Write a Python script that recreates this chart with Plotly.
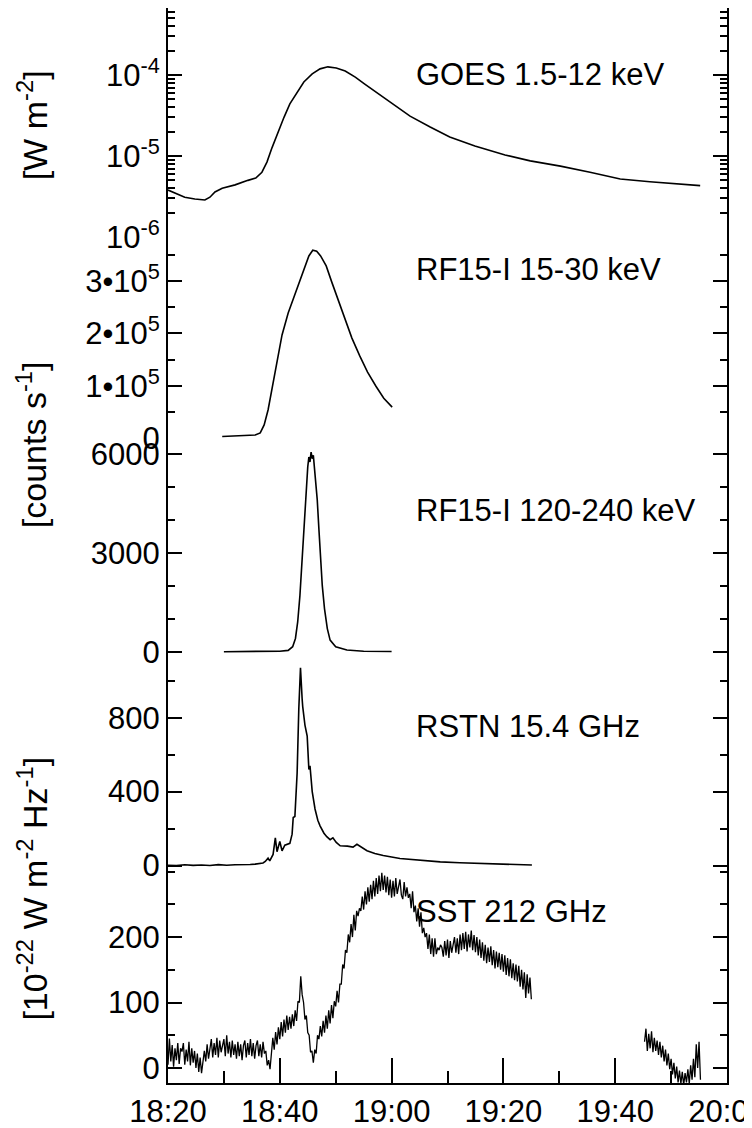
import numpy as np
import plotly.graph_objects as go

# ---------------- data (time in minutes after 18:00 UT) ----------------
goes_t = [20.0, 21.25, 23.0, 24.8, 26.6, 27.5, 28.4, 29.7, 32.0, 34.3, 35.7, 36.8, 37.7,
          38.6, 39.7, 40.75, 41.8, 43.1, 44.3, 45.8, 47.2, 48.6, 50.1, 51.7, 53.5, 55.2,
          57.9, 60.2, 63.3, 66.9, 70.4, 74.9, 80.3, 84.8, 90.2, 95.5, 100.9, 106.2, 111.6, 115.2]
goes_flux = [3.8e-6, 3.5e-6, 3.1e-6, 2.94e-6, 2.86e-6, 3.1e-6, 3.6e-6, 4.0e-6, 4.4e-6, 5.0e-6,
             5.35e-6, 6.3e-6, 8.4e-6, 1.26e-5, 1.98e-5, 3.0e-5, 4.4e-5, 6.2e-5, 8.2e-5, 1.03e-4,
             1.19e-4, 1.26e-4, 1.22e-4, 1.12e-4, 9.4e-5, 7.7e-5, 5.7e-5, 4.4e-5, 3.1e-5, 2.28e-5,
             1.72e-5, 1.33e-5, 1.03e-5, 8.7e-6, 7.5e-6, 6.3e-6, 5.2e-6, 4.8e-6, 4.5e-6, 4.3e-6]

rf_lo_t = [29.7, 32.9, 35.6, 36.5, 37.2, 37.9, 38.6, 39.5, 40.4, 41.5, 42.5, 43.6, 44.5, 45.2,
           45.9, 46.6, 47.3, 48.3, 49.3, 50.4, 51.7, 52.9, 54.3, 55.7, 57.2, 58.6, 60.1]
rf_lo_counts = [2900, 3800, 5700, 9600, 24900, 53500, 95600, 149000, 197000, 239000, 268000,
                298000, 327000, 348000, 359000, 357000, 348000, 329000, 298000, 264000, 226000,
                191000, 157000, 126000, 99000, 76000, 59000]

rf_hi_t = [30.0, 35.0, 40.0, 41.5, 42.3, 42.8, 43.2, 43.6, 43.9, 44.2, 44.5, 44.8, 45.0, 45.2,
           45.4, 45.6, 45.8, 46.0, 46.2, 46.4, 46.7, 47.0, 47.3, 47.6, 48.0, 48.5, 49.0, 50.0,
           52.0, 55.0, 60.0]
rf_hi_counts = [0, 5, 15, 40, 150, 400, 900, 1700, 2600, 3600, 4500, 5200, 5600, 5900, 5750,
                6050, 5850, 5950, 5600, 5300, 4600, 3700, 2800, 2000, 1300, 700, 350, 150,
                50, 15, 5]

rstn_t = [20.0, 21.5, 23.0, 24.5, 26.0, 27.5, 29.0, 30.5, 32.0, 33.5, 34.7, 35.6, 36.5, 37.0,
          37.4, 37.9, 38.2, 38.8, 39.2, 39.5, 40.0, 40.4, 40.9, 41.8, 42.2, 42.4, 42.7, 43.1,
          43.4, 43.7, 44.0, 44.1, 44.5, 44.9, 45.2, 45.4, 45.8, 46.3, 46.8, 47.2, 47.9, 48.4,
          49.0, 49.5, 50.1, 50.8, 52.1, 53.1, 53.8, 54.7, 55.6, 57.0, 58.5, 61.5, 65.1, 68.7,
          72.2, 76.4, 81.2, 85.1]
rstn_flux = [2, 0, 4, 1, 3, 0, 5, 2, 4, 3, 6, 8, 10, 14, 22, 40, 25, 60, 150, 75, 130, 80,
             110, 120, 170, 260, 265, 500, 850, 1070, 900, 860, 760, 700, 520, 540, 400, 306,
             245, 215, 175, 156, 140, 150, 125, 107, 105, 100, 115, 95, 80, 65, 54, 38, 28, 20,
             15, 11, 6, 3]

# SST 212 GHz, sampled every 0.25 min
sst1_start, sst1_step = 20.0, 0.25
sst1_flux = [
    5, 45, 10, 35, 2, 30, 12, 38, 6, 30,
    25, 38, 5, 28, 10, 40, 4, 30, 8, 26,
    0, 22, -6, 16, -8, 14, 26, 10, 36, 14,
    34, 44, 16, 38, 20, 46, 16, 42, 24, 34,
    44, 18, 50, 22, 40, 16, 42, 20, 36, 14,
    40, 18, 36, 12, 34, 42, 16, 38, 20, 44,
    18, 38, 14, 34, 42, 18, 36, 16, 40, 22,
    26, 4, 12, -2, 30, 46, 28, 55, 36, 62,
    44, 70, 48, 74, 54, 80, 58, 78, 60, 82,
    64, 88, 72, 102, 100, 140, 112, 100, 74, 80,
    54, 50, 24, 26, 8, 28, 22, 50, 44, 64,
    48, 72, 54, 80, 60, 88, 68, 96, 76, 102,
    94, 118, 100, 128, 128, 158, 152, 180, 176, 204,
    192, 220, 200, 234, 210, 240, 232, 244, 240, 262,
    242, 270, 250, 276, 254, 280, 258, 286, 262, 290,
    266, 294, 270, 298, 272, 294, 268, 292, 264, 288,
    260, 286, 262, 290, 266, 276, 288, 264, 258, 284,
    262, 276, 260, 266, 244, 270, 238, 248, 224, 244,
    216, 238, 206, 214, 200, 206, 182, 204, 174, 198,
    170, 198, 174, 184, 180, 188, 184, 170, 194, 172,
    196, 168, 194, 176, 188, 200, 176, 198, 174, 204,
    180, 206, 182, 208, 178, 204, 184, 210, 180, 203,
    177, 200, 172, 196, 168, 192, 164, 188, 160, 184,
    162, 186, 157, 180, 152, 178, 154, 176, 150, 174,
    147, 172, 142, 168, 140, 166, 137, 160, 134, 158,
    132, 156, 124, 150, 120, 146, 107, 143, 114, 138,
    105]
sst2_start, sst2_step = 105.25, 0.25
sst2_flux = [
    40, 60, 26, 52, 30, 56, 24, 46, 26, 42,
    20, 40, 16, 34, 10, 28, 4, 22, -2, 14,
    -10, 8, -16, 2, -22, -4, -24, -6, -26, -8,
    -22, -2, -24, 4, -18, 14, -14, 36, 0, 40,
    -18]

labels = ["GOES 1.5-12 keV", "RF15-I 15-30 keV", "RF15-I 120-240 keV",
          "RSTN 15.4 GHz", "SST 212 GHz"]
x_tickvals = [20, 40, 60, 80, 100, 120]
x_ticktext = ["18:20", "18:40", "19:00", "19:20", "19:40", "20:00"]

# ---------------- figure ----------------
FONT = "Liberation Sans, Arial, sans-serif"
LW = 1.6
sst1_t = sst1_start + sst1_step * np.arange(len(sst1_flux))
sst2_t = sst2_start + sst2_step * np.arange(len(sst2_flux))

fig = go.Figure()
line = dict(color="black", width=LW)
fig.add_trace(go.Scatter(x=goes_t, y=goes_flux, mode="lines", line=line, xaxis="x", yaxis="y"))
fig.add_trace(go.Scatter(x=rf_lo_t, y=rf_lo_counts, mode="lines", line=line, xaxis="x", yaxis="y2"))
fig.add_trace(go.Scatter(x=rf_hi_t, y=rf_hi_counts, mode="lines", line=line, xaxis="x", yaxis="y3"))
fig.add_trace(go.Scatter(x=rstn_t, y=rstn_flux, mode="lines", line=line, xaxis="x", yaxis="y4"))
fig.add_trace(go.Scatter(x=sst1_t, y=sst1_flux, mode="lines", line=dict(color="black", width=1.3),
                         xaxis="x", yaxis="y5"))
fig.add_trace(go.Scatter(x=sst2_t, y=sst2_flux, mode="lines", line=dict(color="black", width=1.3),
                         xaxis="x", yaxis="y5"))

tickfont = dict(family=FONT, size=31, color="black")
common_y = dict(showline=True, linecolor="black", linewidth=2, mirror="ticks",
                ticks="inside", ticklen=14, tickwidth=1.5, tickcolor="black",
                showgrid=False, zeroline=False, anchor="x", tickfont=tickfont,
                ticklabelstandoff=0, automargin=False)
minor_y = dict(ticks="inside", ticklen=7, tickwidth=1.5, tickcolor="black", showgrid=False)

domains = [[0.787, 1.0], [0.6, 0.787], [0.4, 0.6], [0.2009, 0.4], [0.0, 0.2009]]

fig.update_layout(
    width=744, height=1120,
    margin=dict(l=160, r=25, t=0, b=45, autoexpand=False),
    paper_bgcolor="white", plot_bgcolor="white",
    showlegend=False,
    font=dict(family=FONT, color="black"),
    xaxis=dict(range=[20, 120], anchor="y5", domain=[0, 1], automargin=False,
               tickmode="array", tickvals=x_tickvals, ticktext=x_ticktext,
               ticklabeloverflow="allow",
               ticks="inside", ticklen=25, tickwidth=1.5, tickcolor="black",
               minor=dict(ticks="inside", ticklen=12, tickwidth=1.5, tickcolor="black",
                          dtick=10, tick0=0, showgrid=False),
               showline=True, linecolor="black", linewidth=2, mirror=False,
               showgrid=False, zeroline=False, tickfont=tickfont, ticklabelstandoff=0),
    xaxis2=dict(range=[20, 120], anchor="y", overlaying="x", side="top", automargin=False,
                tickmode="array", tickvals=x_tickvals, showticklabels=False,
                ticks="inside", ticklen=25, tickwidth=1.5, tickcolor="black",
                minor=dict(ticks="inside", ticklen=12, tickwidth=1.5, tickcolor="black",
                           dtick=10, tick0=0, showgrid=False),
                showline=True, linecolor="black", linewidth=2,
                showgrid=False, zeroline=False),
    yaxis=dict(common_y, domain=domains[0], type="log", range=[-6, -3.173],
               tickmode="array", tickvals=[1e-6, 1e-5, 1e-4],
               ticktext=["10<sup>-6</sup>", "10<sup>-5</sup>", "10<sup>-4</sup>"],
               minor=dict(minor_y, tickmode="array",
                          tickvals=[2e-6, 3e-6, 4e-6, 5e-6, 6e-6, 7e-6, 8e-6, 9e-6,
                                    2e-5, 3e-5, 4e-5, 5e-5, 6e-5, 7e-5, 8e-5, 9e-5,
                                    2e-4, 3e-4, 4e-4, 5e-4, 6e-4])),
    yaxis2=dict(common_y, domain=domains[1], range=[0, 384300],
                tickmode="array", tickvals=[0, 1e5, 2e5, 3e5],
                ticktext=["0", "1•10<sup>5</sup>", "2•10<sup>5</sup>", "3•10<sup>5</sup>"],
                minor=dict(minor_y, dtick=5e4, tick0=0)),
    yaxis3=dict(common_y, domain=domains[2], range=[-40, 6476],
                tickmode="array", tickvals=[0, 3000, 6000],
                minor=dict(minor_y, dtick=1000, tick0=0)),
    yaxis4=dict(common_y, domain=domains[3], range=[-8, 1150],
                tickmode="array", tickvals=[0, 400, 800],
                minor=dict(minor_y, dtick=200, tick0=0)),
    yaxis5=dict(common_y, domain=domains[4], range=[-23, 307],
                tickmode="array", tickvals=[0, 100, 200],
                minor=dict(minor_y, dtick=50, tick0=0)),
)

# panel labels
label_y = [0.9377, 0.7563, 0.533, 0.3312, 0.16]
for txt, yy in zip(labels, label_y):
    fig.add_annotation(text=txt, xref="paper", yref="paper", x=0.44, y=yy,
                       xanchor="left", yanchor="middle", showarrow=False,
                       font=dict(family=FONT, size=31, color="black"))

# unit titles
titles = [("[W m<sup>-2</sup>]", 0.891),
          ("[counts s<sup>-1</sup>]", 0.5935),
          ("[10<sup>-22</sup> W m<sup>-2</sup> Hz<sup>-1</sup>]", 0.181)]
for txt, yy in titles:
    fig.add_annotation(text=txt, xref="paper", yref="paper", x=-0.243, y=yy,
                       xanchor="center", yanchor="middle", textangle=-90, showarrow=False,
                       font=dict(family=FONT, size=34, color="black"))

fig.write_html("out.html")
